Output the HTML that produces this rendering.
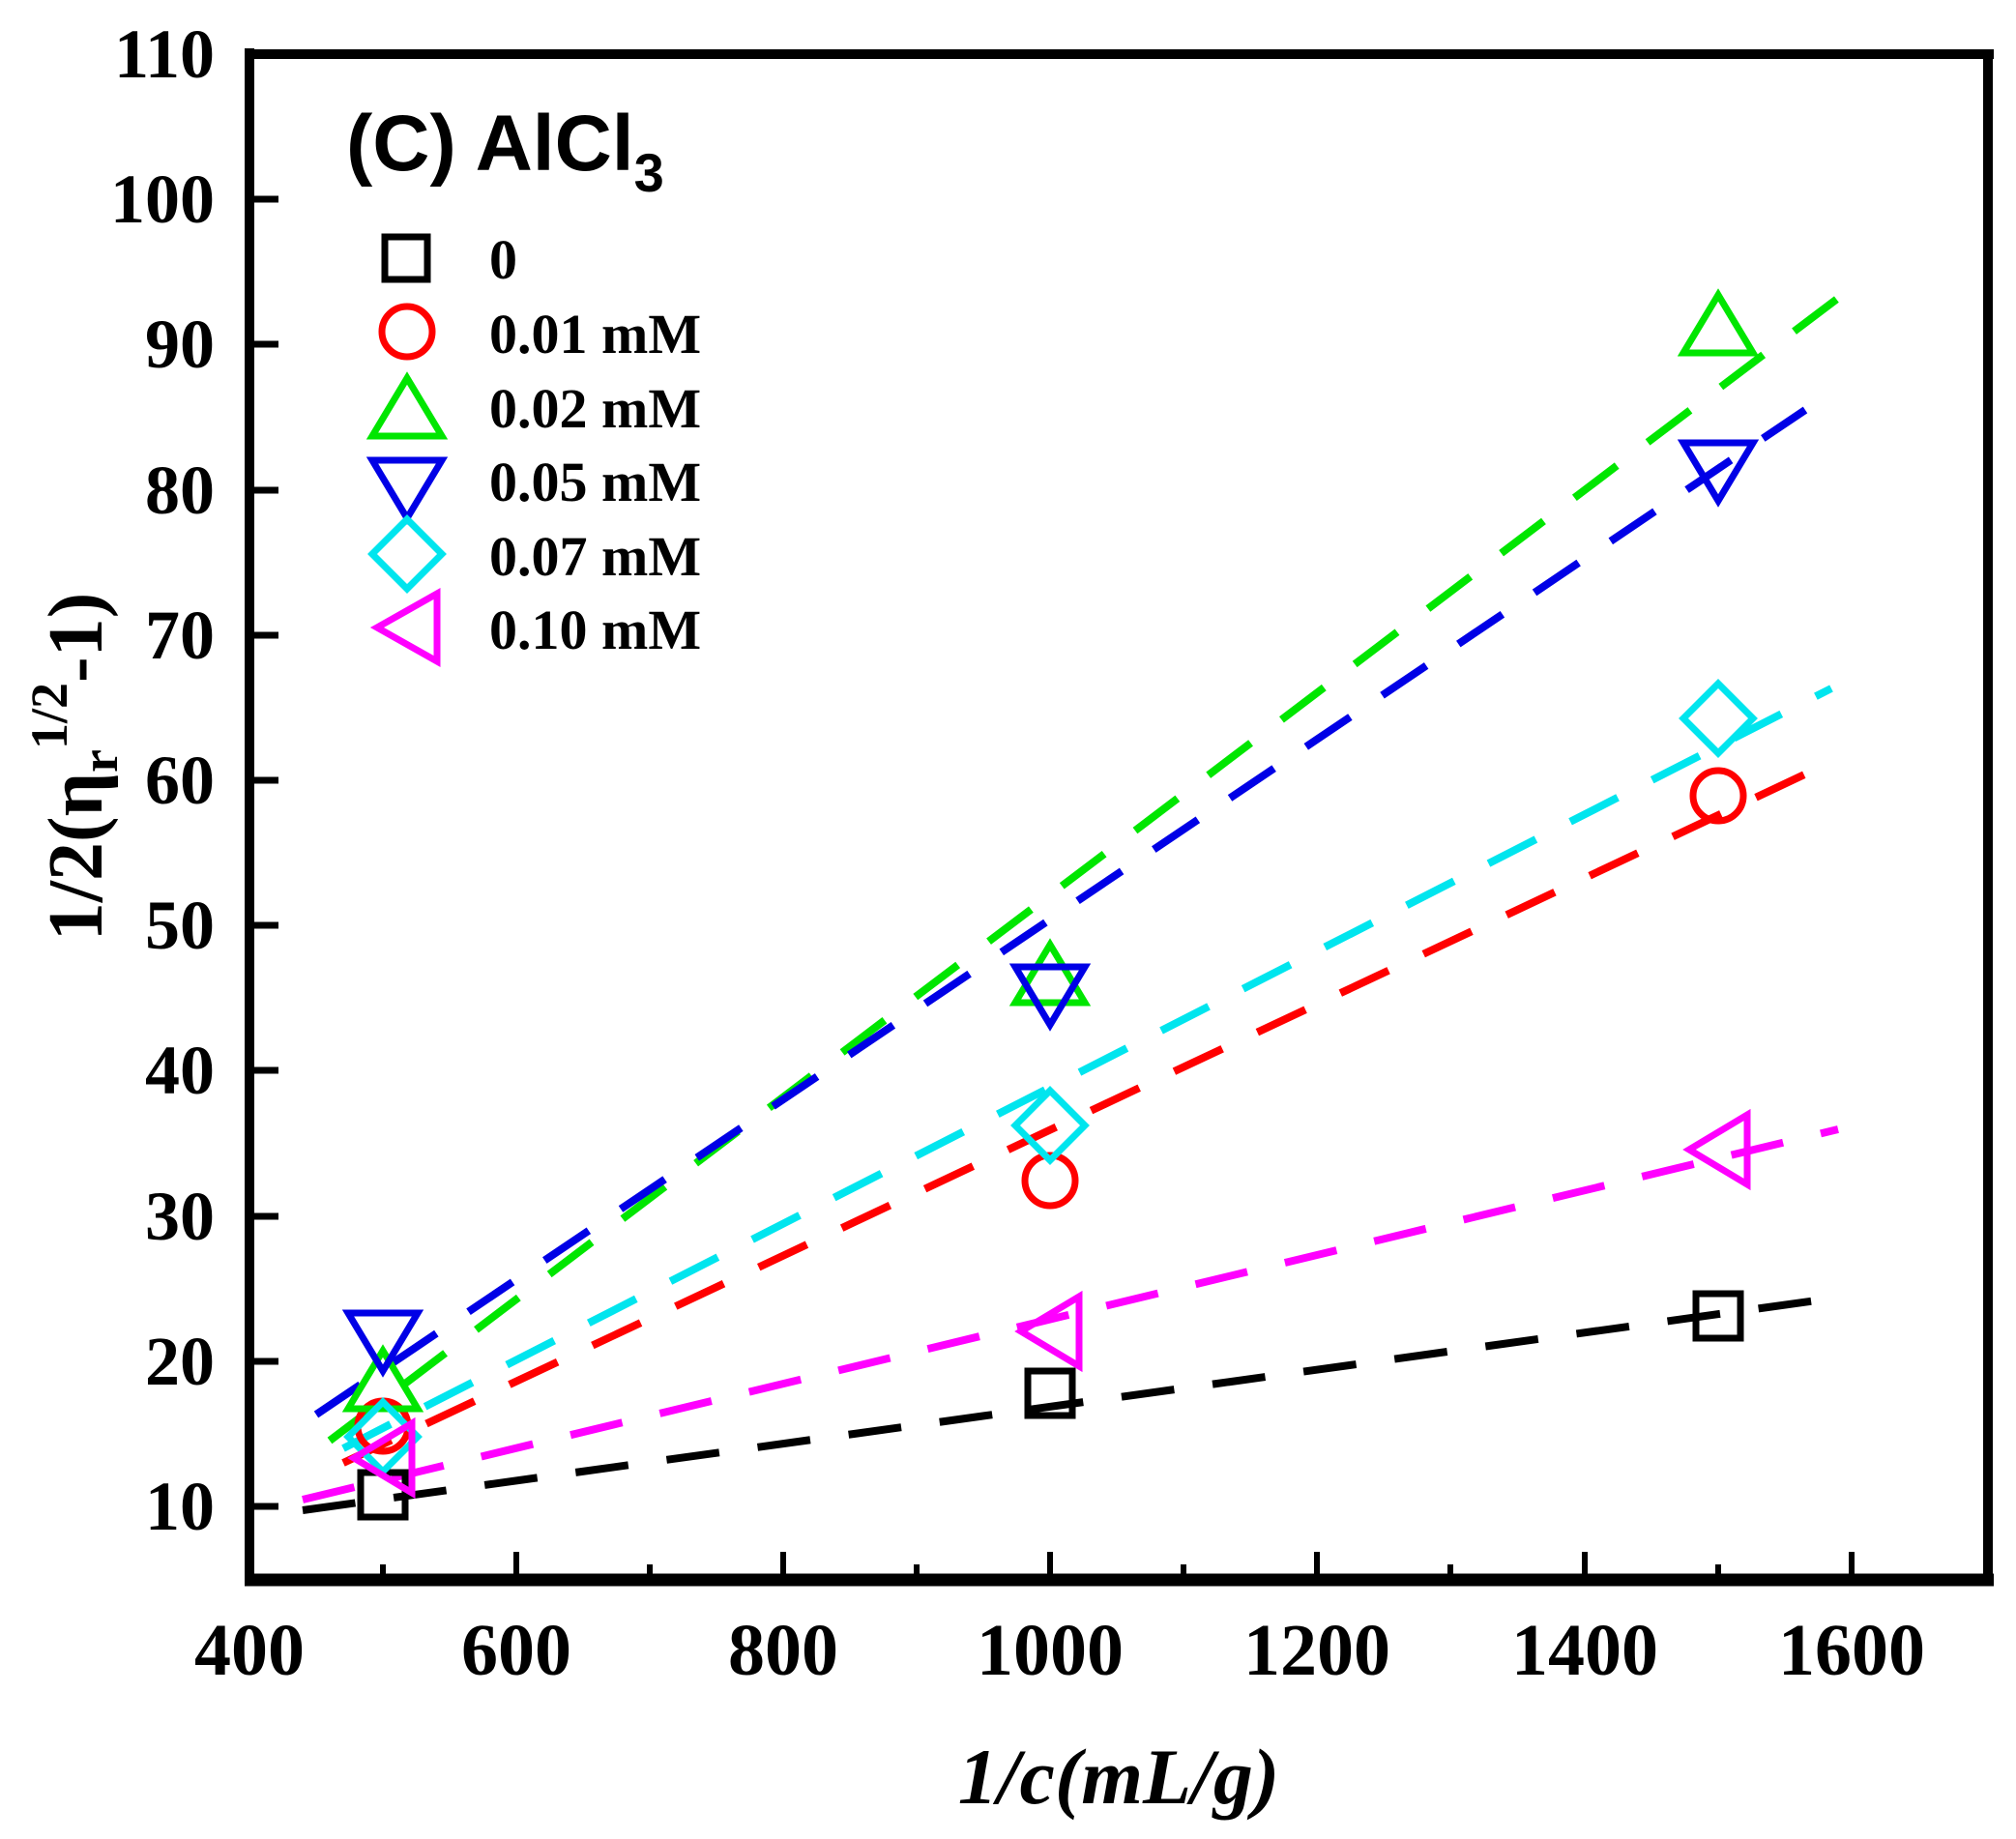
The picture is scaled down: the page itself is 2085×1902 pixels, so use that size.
<!DOCTYPE html>
<html><head><meta charset="utf-8"><style>
html,body{margin:0;padding:0;background:#fff;}
svg{display:block;}
.t{font-family:"Liberation Serif",serif;font-weight:bold;}
</style></head><body>
<svg width="2085" height="1902" viewBox="0 0 2085 1902" xmlns="http://www.w3.org/2000/svg">
<rect width="2085" height="1902" fill="#fff"/>
<g fill="none" stroke-width="8" stroke-dasharray="55 40">
<line x1="313" y1="1562" x2="1908" y2="1341" stroke="#000"/>
<line x1="355" y1="1513" x2="1894" y2="788" stroke="#f00"/>
<line x1="341" y1="1490" x2="1908" y2="303" stroke="#00e600"/>
<line x1="327" y1="1463" x2="1867" y2="424" stroke="#0000e6"/>
<line x1="355" y1="1498" x2="1894" y2="712" stroke="#00e5ee"/>
<line x1="313" y1="1551" x2="1901" y2="1168" stroke="#f0f"/>
</g>
<g fill="none" stroke-width="7">
<g stroke="#000">
<rect x="373" y="1523" width="46" height="46"/>
<rect x="1063" y="1418" width="46" height="46"/>
<rect x="1754" y="1338" width="46" height="46"/>
</g>
<g stroke="#f00">
<circle cx="396" cy="1475" r="26"/>
<circle cx="1086" cy="1221" r="26"/>
<circle cx="1777" cy="823" r="26"/>
</g>
<g stroke="#00e600">
<path d="M396 1397 L432 1457 L360 1457 Z"/>
<path d="M1086 977 L1122 1037 L1050 1037 Z"/>
<path d="M1777 305 L1813 365 L1741 365 Z"/>
</g>
<g stroke="#0000e6">
<path d="M360 1358 L432 1358 L396 1418 Z"/>
<path d="M1050 1000 L1122 1000 L1086 1060 Z"/>
<path d="M1741 458 L1813 458 L1777 518 Z"/>
</g>
<g stroke="#00e5ee">
<path d="M396 1450 L432 1486 L396 1522 L360 1486 Z"/>
<path d="M1086 1128 L1122 1164 L1086 1200 L1050 1164 Z"/>
<path d="M1777 707 L1813 743 L1777 779 L1741 743 Z"/>
</g>
<g stroke="#f0f">
<path d="M366 1508 L426 1472 L426 1544 Z"/>
<path d="M1056 1377 L1116 1341 L1116 1413 Z"/>
<path d="M1747 1189 L1807 1153 L1807 1225 Z"/>
</g>
</g>
<g stroke="#000" fill="none">
<line x1="258" y1="50" x2="258" y2="1640" stroke-width="10"/>
<line x1="253" y1="56" x2="2062" y2="56" stroke-width="10"/>
<line x1="2056" y1="51" x2="2056" y2="1640" stroke-width="10"/>
<line x1="253" y1="1634" x2="2062" y2="1634" stroke-width="13"/>
</g>
<g stroke="#000" stroke-width="6">
<line x1="534" y1="1634" x2="534" y2="1605"/><line x1="810" y1="1634" x2="810" y2="1605"/>
<line x1="1086" y1="1634" x2="1086" y2="1605"/><line x1="1362" y1="1634" x2="1362" y2="1605"/>
<line x1="1639" y1="1634" x2="1639" y2="1605"/><line x1="1915" y1="1634" x2="1915" y2="1605"/>
<line x1="396" y1="1634" x2="396" y2="1618"/><line x1="672" y1="1634" x2="672" y2="1618"/>
<line x1="948" y1="1634" x2="948" y2="1618"/><line x1="1224" y1="1634" x2="1224" y2="1618"/>
<line x1="1500" y1="1634" x2="1500" y2="1618"/><line x1="1777" y1="1634" x2="1777" y2="1618"/>
</g>
<g stroke="#000" stroke-width="7">
<line x1="258" y1="1558" x2="288" y2="1558"/><line x1="258" y1="1408" x2="288" y2="1408"/>
<line x1="258" y1="1258" x2="288" y2="1258"/><line x1="258" y1="1107" x2="288" y2="1107"/>
<line x1="258" y1="957" x2="288" y2="957"/><line x1="258" y1="807" x2="288" y2="807"/>
<line x1="258" y1="657" x2="288" y2="657"/><line x1="258" y1="507" x2="288" y2="507"/>
<line x1="258" y1="356" x2="288" y2="356"/><line x1="258" y1="206" x2="288" y2="206"/>
</g>
<g class="t" font-size="72" text-anchor="end">
<text x="222" y="1582">10</text><text x="222" y="1432">20</text>
<text x="222" y="1282">30</text><text x="222" y="1131">40</text>
<text x="222" y="981">50</text><text x="222" y="831">60</text>
<text x="222" y="681">70</text><text x="222" y="531">80</text>
<text x="222" y="380">90</text><text x="222" y="230">100</text>
<text x="222" y="80">110</text>
</g>
<g class="t" font-size="76" text-anchor="middle">
<text x="258" y="1732">400</text><text x="534" y="1732">600</text>
<text x="810" y="1732">800</text><text x="1086" y="1732">1000</text>
<text x="1362" y="1732">1200</text><text x="1639" y="1732">1400</text>
<text x="1915" y="1732">1600</text>
</g>
<text class="t" font-style="italic" font-size="82" x="1157" y="1865" text-anchor="middle">1/c(mL/g)</text>
<text class="t" font-size="80" transform="translate(105,793) rotate(-90)" text-anchor="middle">1/2(η<tspan font-size="54" dy="16">r</tspan><tspan font-size="54" dy="-52">1/2</tspan><tspan dy="36">-1)</tspan></text>
<text x="358" y="176" font-family="Liberation Sans,sans-serif" font-weight="bold" font-size="82">(C) AlCl<tspan font-size="56" dy="22">3</tspan></text>
<g fill="none" stroke-width="7">
<rect x="398" y="245" width="44" height="44" stroke="#000"/>
<circle cx="421" cy="343" r="26" stroke="#f00"/>
<path d="M421 391 L457 451 L385 451 Z" stroke="#00e600"/>
<path d="M385 476 L457 476 L421 536 Z" stroke="#0000e6"/>
<path d="M421 537 L457 573 L421 609 L385 573 Z" stroke="#00e5ee"/>
<path d="M390 649 L452 614 L452 684 Z" stroke="#f0f"/>
</g>
<g class="t" font-size="58">
<text x="506" y="288">0</text>
<text x="506" y="365">0.01 mM</text>
<text x="506" y="442">0.02 mM</text>
<text x="506" y="518">0.05 mM</text>
<text x="506" y="595">0.07 mM</text>
<text x="506" y="671">0.10 mM</text>
</g>
</svg>
</body></html>
